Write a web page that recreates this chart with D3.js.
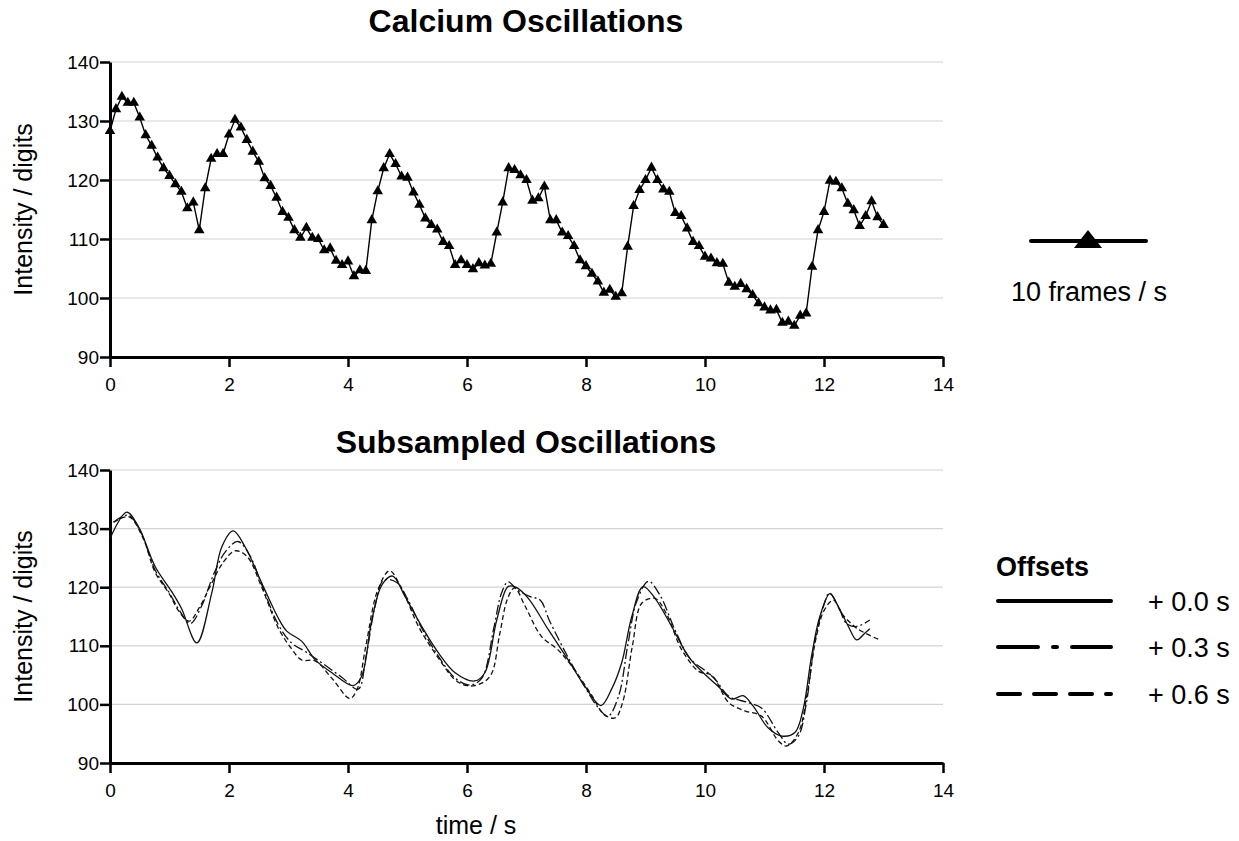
<!DOCTYPE html>
<html>
<head>
<meta charset="utf-8">
<script src="https://cdn.jsdelivr.net/npm/d3@7/dist/d3.min.js"></script>
<style>
  html, body { margin: 0; padding: 0; background: #fff; }
  svg { display: block; }
  .title { font-family: "Liberation Sans", Arial, sans-serif; font-weight: bold; font-size: 32px; }
  .tick text { font-family: "Liberation Sans", Arial, sans-serif; font-size: 19px; fill: #000; }
  .axis-title { font-family: "Liberation Sans", Arial, sans-serif; font-size: 25px; }
  .legend-text { font-family: "Liberation Sans", Arial, sans-serif; font-size: 27px; }
</style>
</head>
<body>
<svg id="chart" width="1239" height="841"></svg>
<script>
// Raw calcium trace, one value per frame (10 frames / s, starting at 0 s)
const frameRate = 10;
const intensity = [
  128.3, 132.0, 134.1, 133.1, 133.1, 130.6, 127.6, 125.8, 123.8, 122.0,
  120.7, 119.3, 118.0, 115.2, 116.2, 111.5, 118.6, 123.6, 124.4, 124.4,
  127.7, 130.2, 128.9, 126.8, 124.8, 123.1, 120.3, 119.0, 117.0, 114.6,
  113.6, 111.5, 110.2, 111.9, 110.2, 110.0, 108.1, 108.4, 106.3, 105.6,
  106.2, 103.7, 104.7, 104.6, 113.2, 118.1, 122.0, 124.4, 122.7, 120.6,
  120.4, 117.9, 115.8, 113.5, 112.4, 111.6, 109.5, 108.8, 105.6, 106.4,
  105.6, 104.9, 105.9, 105.5, 105.8, 111.1, 116.2, 122.0, 121.7, 120.8,
  120.0, 116.5, 116.9, 118.9, 113.2, 113.2, 111.1, 110.5, 108.8, 106.4,
  105.4, 104.1, 102.8, 100.9, 101.4, 100.2, 100.8, 108.7, 115.6, 118.3,
  120.0, 122.1, 120.0, 118.4, 118.0, 114.4, 113.9, 111.8, 109.5, 108.8,
  107.0, 106.7, 105.9, 105.8, 102.6, 101.9, 102.4, 101.5, 100.5, 99.1,
  98.4, 97.9, 98.0, 95.8, 96.0, 95.3, 97.0, 97.4, 105.3, 111.5,
  114.6, 119.9, 119.7, 118.6, 116.0, 114.9, 112.2, 113.9, 116.4, 113.7,
  112.4
];

// Subsampled traces, [time s, intensity]
const offset00 = [
  [0, 128.3], [0.28, 132.8], [0.48, 130.3], [0.76, 123.5], [1.04, 119.2], [1.2, 116.4],
  [1.46, 110.5], [1.71, 119.0], [1.88, 126.9], [2.07, 129.6], [2.27, 126.9], [2.55, 120.7],
  [2.83, 114.7], [2.97, 112.5], [3.22, 110.8], [3.45, 107.6], [3.73, 105.4], [4.09, 103.2],
  [4.23, 104.8], [4.4, 114.4], [4.57, 120.4], [4.75, 121.9], [4.96, 118.4], [5.24, 113.3],
  [5.52, 108.8], [5.8, 105.4], [6.13, 104.0], [6.3, 105.4], [6.5, 114.4], [6.69, 120.1],
  [6.82, 120.0], [7.03, 118.1], [7.37, 112.7], [7.7, 107.6], [7.98, 103.1], [8.25, 99.8],
  [8.43, 102.6], [8.6, 107.1], [8.77, 115.0], [8.96, 120.1], [9.16, 118.1], [9.44, 113.3],
  [9.72, 108.2], [9.94, 105.7], [10.22, 103.1], [10.45, 100.9], [10.64, 101.5], [10.81, 99.7],
  [11.06, 96.0], [11.29, 94.6], [11.51, 95.2], [11.65, 99.2], [11.79, 108.2], [11.93, 115.0],
  [12.1, 118.9], [12.24, 116.7], [12.41, 113.3], [12.55, 111.0], [12.69, 112.2], [12.77, 112.9]
];
const offset03 = [
  [0.06, 131.1], [0.3, 132.3], [0.5, 129.8], [0.76, 122.9], [1.0, 119.0], [1.15, 116.3],
  [1.35, 113.8], [1.54, 116.8], [1.75, 122.4], [1.95, 126.2], [2.15, 127.8], [2.35, 125.4],
  [2.55, 120.4], [2.83, 113.6], [3.05, 110.5], [3.3, 108.9], [3.6, 106.8], [3.9, 104.6],
  [4.17, 102.6], [4.3, 108.0], [4.45, 116.5], [4.6, 121.2], [4.82, 120.8], [5.0, 118.0],
  [5.24, 113.0], [5.52, 108.2], [5.8, 104.5], [6.05, 103.3], [6.25, 104.5], [6.45, 113.0],
  [6.58, 119.0], [6.69, 120.9], [6.85, 119.5], [7.06, 118.4], [7.23, 117.8], [7.39, 114.2],
  [7.7, 108.0], [7.98, 103.0], [8.2, 99.5], [8.37, 98.0], [8.55, 101.5], [8.7, 110.0],
  [8.85, 117.5], [9.05, 121.0], [9.25, 118.5], [9.5, 112.6], [9.75, 107.8], [10.0, 105.8],
  [10.17, 104.3], [10.4, 101.4], [10.73, 100.3], [10.95, 99.4], [11.23, 95.2], [11.4, 93.2],
  [11.57, 94.6], [11.7, 100.0], [11.85, 111.0], [12.0, 117.0], [12.09, 119.0], [12.25, 116.5],
  [12.38, 113.8], [12.55, 113.3], [12.77, 114.4]
];
const offset06 = [
  [0.06, 131.1], [0.32, 132.0], [0.55, 128.5], [0.76, 122.5], [1.0, 118.8], [1.15, 116.0],
  [1.33, 114.2], [1.5, 116.5], [1.7, 120.5], [1.9, 124.2], [2.1, 126.2], [2.3, 125.3],
  [2.55, 120.0], [2.83, 113.0], [3.05, 109.5], [3.22, 107.6], [3.45, 107.4], [3.75, 104.2],
  [4.03, 101.0], [4.15, 102.5], [4.3, 110.0], [4.5, 119.5], [4.7, 122.8], [4.9, 119.8],
  [5.2, 113.0], [5.52, 107.9], [5.8, 104.2], [6.0, 103.2], [6.2, 103.4], [6.4, 105.0],
  [6.55, 112.0], [6.68, 118.0], [6.8, 119.9], [6.98, 116.7], [7.25, 111.6], [7.53, 109.3],
  [7.8, 106.0], [8.1, 101.5], [8.3, 98.3], [8.49, 97.7], [8.62, 100.5], [8.78, 110.0],
  [8.94, 117.3], [9.16, 118.1], [9.35, 115.5], [9.61, 109.3], [9.9, 105.6], [10.11, 105.0],
  [10.4, 100.3], [10.67, 98.9], [10.95, 98.0], [11.23, 93.8], [11.37, 92.9], [11.57, 95.2],
  [11.72, 102.0], [11.86, 111.0], [12.0, 116.0], [12.16, 117.8], [12.3, 115.5], [12.55, 113.0],
  [12.94, 111.0]
];

const xTicks = [0, 2, 4, 6, 8, 10, 12, 14];
const yTicks = [90, 100, 110, 120, 130, 140];
const offsetLabels = ["+ 0.0 s", "+ 0.3 s", "+ 0.6 s"];

const svg = d3.select("#chart");

const x = d3.scaleLinear().domain([0, 14]).range([110, 943]);

function panel(top, bottom, titleText, titleY) {
  const y = d3.scaleLinear().domain([90, 140]).range([bottom, top]);
  const g = svg.append("g");

  // horizontal gridlines
  g.append("g").selectAll("line")
    .data(yTicks.filter(d => d > 90))
    .join("line")
    .attr("x1", x(0)).attr("x2", x(14))
    .attr("y1", d => y(d)).attr("y2", d => y(d))
    .attr("stroke", "#d3d3d3").attr("stroke-width", 1.2);

  const xAxis = g.append("g")
    .attr("transform", `translate(0,${bottom})`)
    .call(d3.axisBottom(x).tickValues(xTicks).tickSize(10).tickPadding(11).tickSizeOuter(0));
  const yAxis = g.append("g")
    .attr("transform", `translate(${x(0)},0)`)
    .call(d3.axisLeft(y).tickValues(yTicks).tickSize(10).tickPadding(1).tickSizeOuter(0));
  [xAxis, yAxis].forEach(a => {
    a.select(".domain").attr("stroke", "#000").attr("stroke-width", 3);
    a.selectAll(".tick line").attr("stroke", "#000").attr("stroke-width", 2.5);
  });

  g.append("text").attr("class", "title")
    .attr("x", 526).attr("y", titleY).attr("text-anchor", "middle")
    .text(titleText);

  g.append("text").attr("class", "axis-title")
    .attr("transform", `translate(32,${(top + bottom) / 2}) rotate(-90)`)
    .attr("text-anchor", "middle")
    .text("Intensity / digits");

  return { g, y };
}

// ---- Calcium Oscillations ----
const p1 = panel(62, 357, "Calcium Oscillations", 32);
const raw = intensity.map((v, i) => [i / frameRate, v]);
const rawLine = d3.line().x(d => x(d[0])).y(d => p1.y(d[1]));
p1.g.append("path").datum(raw)
  .attr("d", rawLine).attr("fill", "none")
  .attr("stroke", "#000").attr("stroke-width", 1.4);
const tri = d3.symbol().type(d3.symbolTriangle).size(48);
p1.g.append("g").selectAll("path")
  .data(raw).join("path")
  .attr("d", tri)
  .attr("transform", d => `translate(${x(d[0])},${p1.y(d[1])})`)
  .attr("fill", "#000");

// legend: 10 frames / s
const leg1 = svg.append("g");
leg1.append("line").attr("x1", 1031).attr("x2", 1146).attr("y1", 241).attr("y2", 241)
  .attr("stroke", "#000").attr("stroke-width", 4).attr("stroke-linecap", "round");
leg1.append("path")
  .attr("d", "M1074,248 L1088,230 L1102,248 Z").attr("fill", "#000");
leg1.append("text").attr("class", "legend-text")
  .attr("x", 1089).attr("y", 301).attr("text-anchor", "middle")
  .text("10 frames / s");

// ---- Subsampled Oscillations ----
const p2 = panel(470, 763, "Subsampled Oscillations", 453);
p2.g.append("text").attr("class", "axis-title")
  .attr("x", 476).attr("y", 834).attr("text-anchor", "middle")
  .text("time / s");

const smooth = d3.line().curve(d3.curveCatmullRom.alpha(0.5))
  .x(d => x(d[0])).y(d => p2.y(d[1]));
const series = [
  { data: offset00, dash: null },
  { data: offset03, dash: "10,3,2,3" },
  { data: offset06, dash: "5,3" }
];
const legendDash = [null, "40,15,4,15", "22,14"];
p2.g.append("g").selectAll("path")
  .data(series).join("path")
  .attr("d", d => smooth(d.data))
  .attr("fill", "none").attr("stroke", "#111").attr("stroke-width", 1.3)
  .attr("stroke-dasharray", d => d.dash);

// legend: Offsets
const leg2 = svg.append("g");
leg2.append("text").attr("class", "legend-text").attr("font-weight", "bold")
  .attr("x", 996).attr("y", 576).text("Offsets");
const rows = [601, 647, 694];
offsetLabels.forEach((lab, i) => {
  leg2.append("line").attr("x1", 998).attr("x2", 1111)
    .attr("y1", rows[i]).attr("y2", rows[i])
    .attr("stroke", "#000").attr("stroke-width", 4).attr("stroke-linecap", "round")
    .attr("stroke-dasharray", legendDash[i]);
  leg2.append("text").attr("class", "legend-text")
    .attr("x", 1148).attr("y", rows[i] + 10).text(lab);
});
</script>
</body>
</html>
